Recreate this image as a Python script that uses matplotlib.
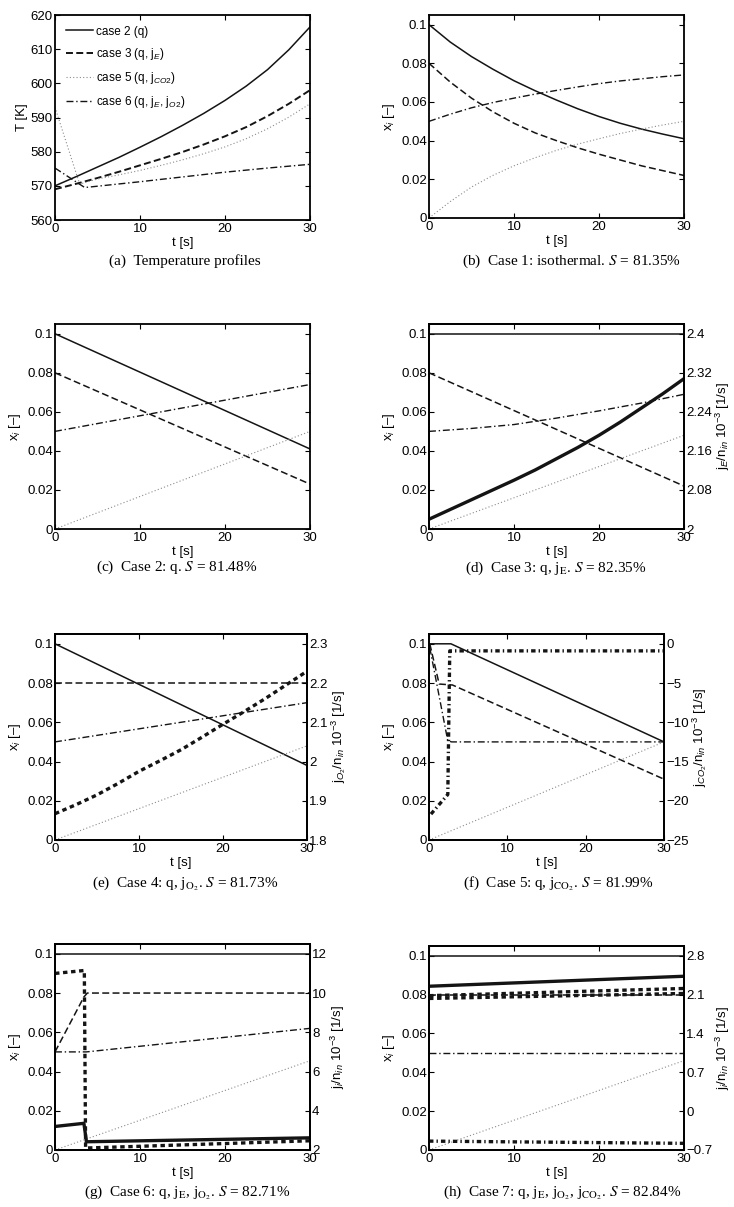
import matplotlib
matplotlib.use('Agg')
import matplotlib.pyplot as plt
from matplotlib.ticker import FuncFormatter

plt.rcParams['font.family'] = ['Liberation Sans', 'DejaVu Sans']
plt.rcParams['mathtext.fontset'] = 'custom'
plt.rcParams['mathtext.rm'] = 'Liberation Sans'
plt.rcParams['mathtext.it'] = 'Liberation Sans:italic'
plt.rcParams['mathtext.bf'] = 'Liberation Sans:bold'
plt.rcParams['lines.scale_dashes'] = False
plt.rcParams['axes.linewidth'] = 1.3
plt.rcParams['font.size'] = 9.5

# ---- data ----
t13 = [0, 2.5, 5, 7.5, 10, 12.5, 15, 17.5, 20, 22.5, 25, 27.5, 30]
t7 = [0, 5, 10, 15, 20, 25, 30]
t2 = [0, 30]

# (a) temperature profiles [K]
a_case2 = [570, 572.7, 575.5, 578.3, 581.3, 584.4, 587.7, 591.2, 595, 599.2,
           604, 609.8, 616.5]
a_case3 = [569, 570.6, 572.3, 574.1, 576, 577.9, 579.9, 582.1, 584.5, 587.2,
           590.4, 594, 598]
a_t5 = [0, 2.9, 5, 7.5, 10, 12.5, 15, 17.5, 20, 22.5, 25, 27.5, 30]
a_case5 = [593, 570.5, 572, 573.2, 574.5, 576, 577.6, 579.4, 581.4, 583.8,
           586.7, 590.1, 594]
a_t6 = [0, 3.5, 10, 15, 20, 25, 30]
a_case6 = [575.2, 569.5, 571.2, 572.6, 574, 575.2, 576.3]
a_labels = ['case 2 (q)', 'case 3 (q, j$_E$)', 'case 5 (q, j$_{CO2}$)',
            'case 6 (q, j$_E$, j$_{O2}$)']

# (b) case 1, isothermal
b_solid = [0.1, 0.091, 0.0835, 0.077, 0.071, 0.0658, 0.061, 0.0565, 0.0525,
           0.049, 0.046, 0.0434, 0.041]
b_dash = [0.08, 0.0703, 0.062, 0.055, 0.049, 0.044, 0.040, 0.0363, 0.033,
          0.030, 0.027, 0.0245, 0.022]
b_dashdot = [0.05, 0.0537, 0.057, 0.0597, 0.062, 0.0641, 0.066, 0.0678,
             0.0695, 0.0709, 0.072, 0.0731, 0.074]
b_dot = [0, 0.0085, 0.016, 0.022, 0.027, 0.0312, 0.035, 0.0382, 0.041,
         0.0437, 0.046, 0.0481, 0.050]

# (c) case 2
c_solid = [0.1, 0.041]
c_dash = [0.08, 0.023]
c_dashdot = [0.05, 0.074]
c_dot = [0, 0.05]

# (d) case 3
d_solid = [0.1, 0.1]
d_dash = [0.08, 0.022]
d_dashdot = [0.05, 0.0515, 0.0535, 0.0568, 0.0605, 0.0645, 0.069]
d_dot = [0, 0.048]
d_jE = [2.02, 2.04, 2.06, 2.08, 2.10, 2.121, 2.144, 2.167, 2.192, 2.219,
        2.248, 2.277, 2.308]

# (e) case 4
e_solid = [0.1, 0.038]
e_dash = [0.08, 0.08]
e_dashdot = [0.05, 0.07]
e_dot = [0, 0.048]
e_jO2 = [1.867, 1.89, 1.915, 1.944, 1.975, 2.002, 2.03, 2.062, 2.095, 2.127,
         2.16, 2.195, 2.23]

# (f) case 5
f_t_solid = [0, 2.8, 30]
f_solid = [0.1, 0.1, 0.05]
f_t_dash = [0.1, 1.3, 3, 30]
f_dash = [0.1, 0.0795, 0.079, 0.031]
f_t_dashdot = [0.1, 2.4, 2.9, 30]
f_dashdot = [0.098, 0.0505, 0.05, 0.05]
f_dot = [0, 0.05]
f_t_jCO2 = [0.25, 2.4, 2.65, 30]
f_jCO2 = [-21.7, -19.2, -0.9, -0.9]

# (g) case 6
g_solid = [0.1, 0.1]
g_t_dash = [0, 3.4, 3.8, 30]
g_dash = [0.05, 0.078, 0.08, 0.08]
g_t_dashdot = [0, 3.7, 30]
g_dashdot = [0.05, 0.05, 0.062]
g_dot = [0, 0.0455]
g_t_jE = [0, 3.4, 3.7, 30]
g_jE = [3.2, 3.36, 2.42, 2.62]
g_t_jO2 = [0, 3.45, 3.6, 30]
g_jO2 = [11.0, 11.15, 2.1, 2.47]

# (h) case 7
h_solid = [0.1, 0.1]
h_dash = [0.08, 0.08]
h_dashdot = [0.05, 0.05]
h_dot = [0, 0.046]
h_jE = [2.25, 2.43]
h_jO2_a = [2.08, 2.21]
h_jO2_b = [2.03, 2.12]
h_jCO2 = [-0.54, -0.58]

captions = [
    '(a)  Temperature profiles',
    r'(b)  Case 1: isothermal. $S$ = 81.35%',
    r'(c)  Case 2: q. $S$ = 81.48%',
    r'(d)  Case 3: q, j$_\mathrm{E}$. $S$ = 82.35%',
    r'(e)  Case 4: q, j$_{\mathrm{O}_2}$. $S$ = 81.73%',
    r'(f)  Case 5: q, j$_{\mathrm{CO}_2}$. $S$ = 81.99%',
    r'(g)  Case 6: q, j$_\mathrm{E}$, j$_{\mathrm{O}_2}$. $S$ = 82.71%',
    r'(h)  Case 7: q, j$_\mathrm{E}$, j$_{\mathrm{O}_2}$, j$_{\mathrm{CO}_2}$. $S$ = 82.84%',
]

# ---- styles ----
K = '0.08'
SOLID = dict(color=K, lw=1.1, ls='-')
DASH = dict(color=K, lw=1.1, ls=(0, (5, 2.4)))
DASHDOT = dict(color=K, lw=1.0, ls=(0, (5, 2, 1, 2)))
DOT = dict(color='0.55', lw=0.8, ls=(0, (0.8, 1.6)))
T_SOLID = dict(color=K, lw=2.4, ls='-')
T_DASH = dict(color=K, lw=2.4, ls=(0, (3.2, 2.6)))
T_DASHDOT = dict(color=K, lw=2.4, ls=(0, (3.2, 2.2, 1, 2.2)))

W, H = 734, 1207
fig = plt.figure(figsize=(W / 100, H / 100), dpi=100)


def gfmt(v, pos):
    return ('%g' % v).replace('-', '\u2212')


def make_axes(l, t, r, b):
    ax = fig.add_axes([l / W, 1 - b / H, (r - l) / W, (b - t) / H])
    ax.set_xlim(0, 30)
    ax.set_xticks([0, 10, 20, 30])
    ax.tick_params(direction='in', length=3.5, width=0.8, pad=1.5, top=True)
    ax.tick_params(axis='x', pad=2.5)
    ax.yaxis.set_major_formatter(FuncFormatter(gfmt))
    ax.set_xlabel('t [s]', labelpad=1)
    return ax


def xi_axes(l, t, r, b, twin=False):
    ax = make_axes(l, t, r, b)
    ax.set_ylim(0, 0.105)
    ax.set_yticks([0, 0.02, 0.04, 0.06, 0.08, 0.1])
    ax.set_ylabel('x$_i$ [\u2013]', labelpad=3)
    if not twin:
        ax.tick_params(right=True)
    return ax


def twin(ax, lo, scale, ticks, label, pad=1):
    # right axis tied to the left one: right = lo + scale * left
    ax2 = ax.twinx()
    ax2.set_ylim(lo, lo + scale * 0.105)
    ax2.set_yticks(ticks)
    ax2.yaxis.set_major_formatter(FuncFormatter(gfmt))
    ax2.tick_params(direction='in', length=3.5, width=0.8, pad=1.5)
    ax2.set_ylabel(label, labelpad=pad)
    return ax2


def caption(x, y, s):
    fig.text(x / W, 1 - y / H, s, ha='center', va='center',
             family='Liberation Serif', fontsize=11, math_fontfamily='stix')


# (a)
ax = make_axes(55, 15, 310, 220)
ax.tick_params(right=True)
ax.plot(t13, a_case2, label=a_labels[0], **SOLID)
ax.plot(t13, a_case3, label=a_labels[1], **dict(DASH, lw=1.4))
ax.plot(a_t5, a_case5, label=a_labels[2], **DOT)
ax.plot(a_t6, a_case6, label=a_labels[3], **DASHDOT)
ax.set_ylim(560, 620)
ax.set_yticks(range(560, 621, 10))
ax.set_ylabel('T [K]', labelpad=2)
ax.legend(loc='upper left', frameon=False, fontsize=8.5, handlelength=2.3,
          labelspacing=0.7, borderaxespad=0.5, handletextpad=0.3)

# (b)
ax = xi_axes(429, 15, 684, 218)
ax.plot(t13, b_solid, **SOLID)
ax.plot(t13, b_dash, **DASH)
ax.plot(t13, b_dashdot, **DASHDOT)
ax.plot(t13, b_dot, **DOT)

# (c)
ax = xi_axes(55, 324, 310, 529)
ax.plot(t2, c_solid, **SOLID)
ax.plot(t2, c_dash, **DASH)
ax.plot(t2, c_dashdot, **DASHDOT)
ax.plot(t2, c_dot, **DOT)

# (d)
ax = xi_axes(429, 324, 684, 529, twin=True)
ax.plot(t2, d_solid, **SOLID)
ax.plot(t2, d_dash, **DASH)
ax.plot(t7, d_dashdot, **DASHDOT)
ax.plot(t2, d_dot, **DOT)
ax2 = twin(ax, 2, 4, [2, 2.08, 2.16, 2.24, 2.32, 2.4],
           'j$_E$/n$_{in}$ 10$^{-3}$ [1/s]')
ax2.plot(t13, d_jE, **T_SOLID)

# (e)
ax = xi_axes(55, 634, 307, 840, twin=True)
ax.plot(t2, e_solid, **SOLID)
ax.plot(t2, e_dash, **DASH)
ax.plot(t2, e_dashdot, **DASHDOT)
ax.plot(t2, e_dot, **DOT)
ax2 = twin(ax, 1.8, 5, [1.8, 1.9, 2, 2.1, 2.2, 2.3],
           'j$_{O_2}$/n$_{in}$ 10$^{-3}$ [1/s]')
ax2.plot(t13, e_jO2, **T_DASH)

# (f)
ax = xi_axes(429, 634, 664, 840, twin=True)
ax.plot(f_t_solid, f_solid, **SOLID)
ax.plot(f_t_dash, f_dash, **DASH)
ax.plot(f_t_dashdot, f_dashdot, **DASHDOT)
ax.plot(t2, f_dot, **DOT)
ax2 = twin(ax, -25, 250, [-25, -20, -15, -10, -5, 0],
           'j$_{CO_2}$/n$_{in}$ 10$^{-3}$ [1/s]')
ax2.plot(f_t_jCO2, f_jCO2, **T_DASHDOT)

# (g)
ax = xi_axes(55, 944, 310, 1150, twin=True)
ax.plot(t2, g_solid, **SOLID)
ax.plot(g_t_dash, g_dash, **DASH)
ax.plot(g_t_dashdot, g_dashdot, **DASHDOT)
ax.plot(t2, g_dot, **DOT)
ax2 = twin(ax, 2, 100, [2, 4, 6, 8, 10, 12],
           'j$_i$/n$_{in}$ 10$^{-3}$ [1/s]')
ax2.plot(g_t_jE, g_jE, **T_SOLID)
ax2.plot(g_t_jO2, g_jO2, **T_DASH)

# (h)
ax = xi_axes(429, 946, 684, 1150, twin=True)
ax.plot(t2, h_solid, **SOLID)
ax.plot(t2, h_dash, **DASH)
ax.plot(t2, h_dashdot, **DASHDOT)
ax.plot(t2, h_dot, **DOT)
ax2 = twin(ax, -0.7, 35, [-0.7, 0, 0.7, 1.4, 2.1, 2.8],
           'j$_i$/n$_{in}$ 10$^{-3}$ [1/s]')
ax2.plot(t2, h_jE, **T_SOLID)
ax2.plot(t2, h_jO2_a, **T_DASH)
ax2.plot(t2, h_jO2_b, **T_DASH)
ax2.plot(t2, h_jCO2, **T_DASHDOT)

cap_pos = [(185, 261), (571, 261), (177, 567), (556, 568),
           (185, 884), (558, 884), (187, 1193), (562, 1193)]
for (x, y), s in zip(cap_pos, captions):
    caption(x, y, s)

fig.savefig('out.png', dpi=100)
